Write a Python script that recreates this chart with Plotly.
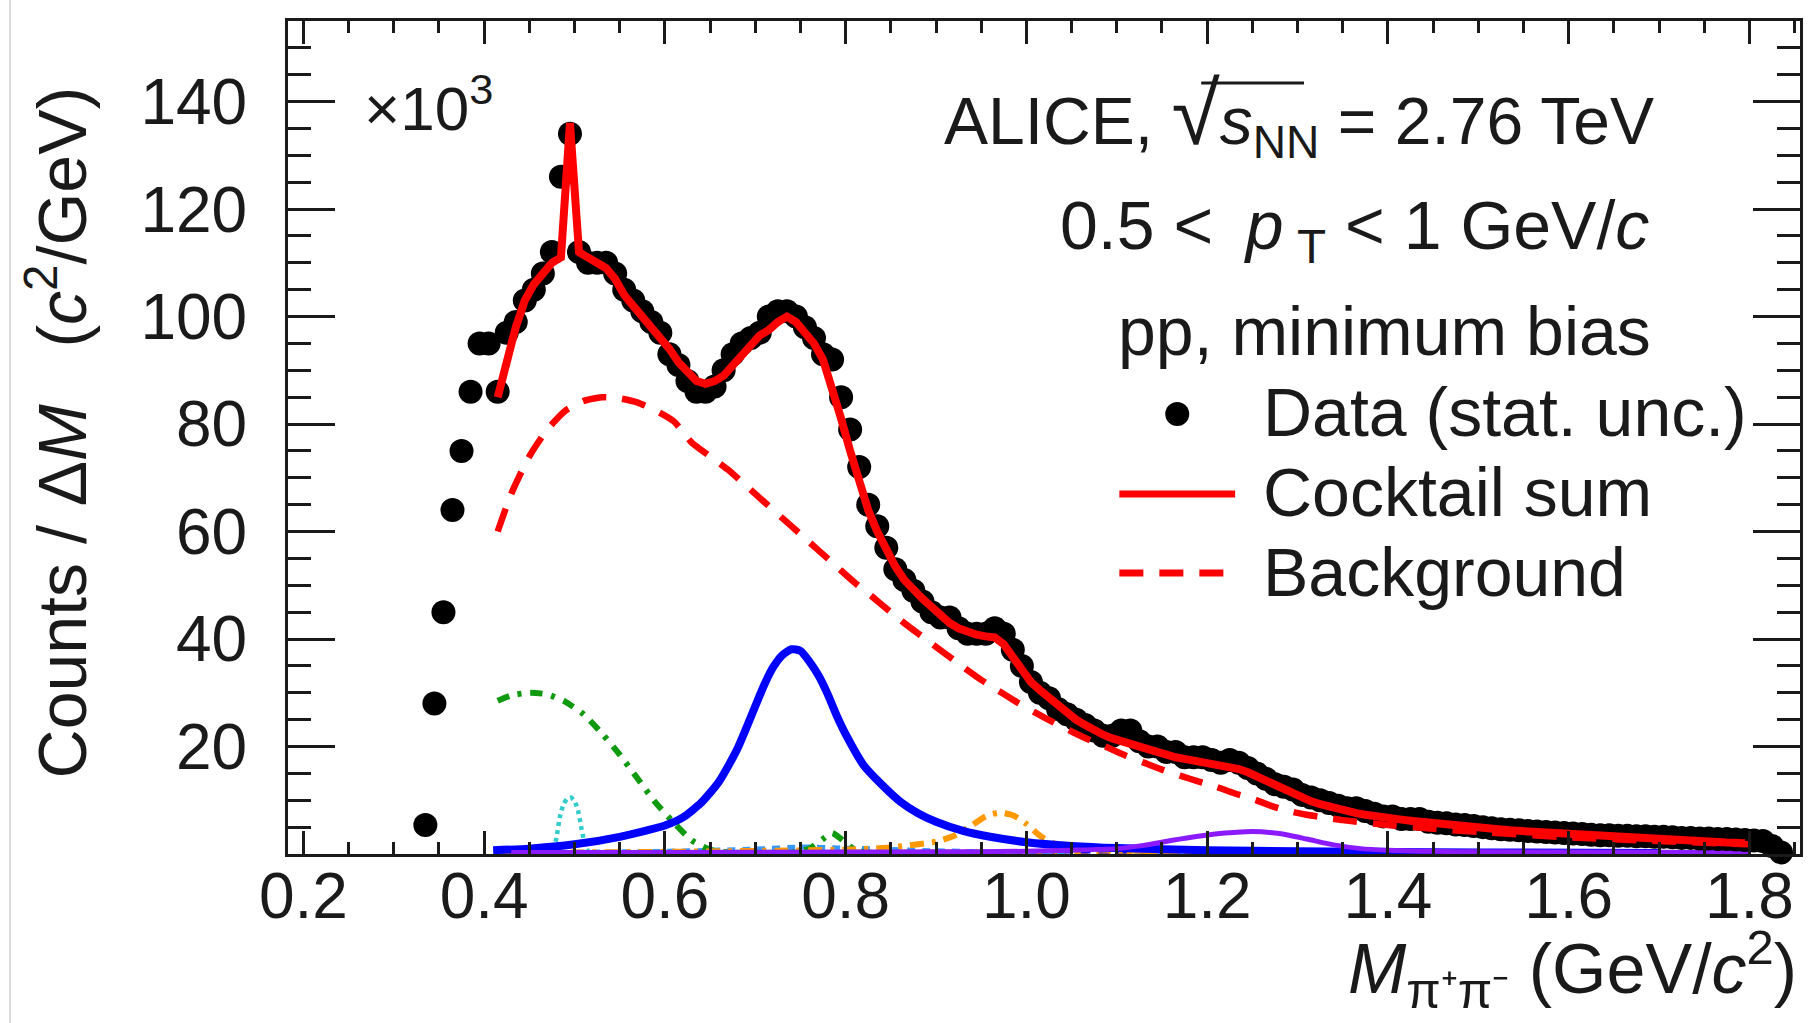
import plotly.graph_objects as go

FONT = "Liberation Sans"
INK = "#1a1a1a"

# ---------------------------------------------------------------------------
# pi+pi- invariant-mass spectrum (counts / dM, in units of 10^3 c^2/GeV)
# ---------------------------------------------------------------------------
BIN_WIDTH = 0.01
data_first_bin = 0.335
data_counts = [
    5.4, 28, 45, 64, 75, 86, 95, 95, 86, 97,            # 0.335 - 0.425
    99, 103, 105, 108, 112, 126, 134, 112, 110, 110,    # 0.435 - 0.525
    110, 108, 105, 103, 101, 99, 97, 93, 91, 88,        # 0.535 - 0.625
    86, 86, 87, 90, 93, 95, 96, 97, 100, 101,           # 0.635 - 0.725
    101, 100, 98, 96, 93, 92, 85, 79, 72, 65,           # 0.735 - 0.825
    61, 57, 53, 51, 49, 47, 45, 44, 44, 42,             # 0.835 - 0.925
    41, 41, 41, 42, 41, 38, 35, 32, 30, 29,             # 0.935 - 1.025
    27, 26, 25, 24, 23, 22, 22, 23, 23, 21,             # 1.035 - 1.125
    20, 20, 19, 19, 18, 18, 18, 17.5, 17, 17.5,         # 1.135 - 1.225
    17, 16, 15, 14, 13, 12.5, 12, 11, 10.5, 10,         # 1.235 - 1.325
    9.5, 9, 8.5, 8.5, 8, 7.5, 7, 7, 6.5, 6.5,           # 1.335 - 1.425
    6.5, 6, 5.8, 5.7, 5.5, 5.4, 5.2, 5.0, 4.8, 4.6,     # 1.435 - 1.525
    4.5, 4.4, 4.3, 4.2, 4.1, 4.0, 3.9, 3.8, 3.7, 3.6,   # 1.535 - 1.625
    3.5, 3.5, 3.4, 3.4, 3.3, 3.3, 3.2, 3.2, 3.1, 3.0,   # 1.635 - 1.725
    3.0, 2.9, 2.9, 2.8, 2.8, 2.7, 2.6, 2.5, 2.4, 1.5,   # 1.735 - 1.825
    0.3,                                                # 1.835
]
data_mass = [round(data_first_bin + BIN_WIDTH * i, 3) for i in range(len(data_counts))]

# total hadronic cocktail + background
sum_first_bin = 0.415
cocktail_sum = [
    85, 92, 98, 103, 106, 108, 110, 111, 136, 112,                  # 0.415 - 0.505
    111, 110, 109, 107, 104, 102, 100, 98.5, 96, 94,                # 0.515 - 0.605
    91.5, 89.5, 88, 87.5, 88, 89, 91, 93, 95, 96.5,                 # 0.615 - 0.705
    97.5, 99, 100, 99, 97, 95, 92, 87, 81, 75,                      # 0.715 - 0.805
    69, 64, 60, 56.5, 53.5, 51, 49, 47.5, 46, 44.5,                 # 0.815 - 0.905
    43, 42, 41.3, 40.8, 40.5, 40.3, 39, 36.5, 34, 32,               # 0.915 - 1.005
    30.5, 29, 27.5, 26, 25, 24, 23, 22.2, 21.5, 21,                 # 1.015 - 1.105
    20.3, 19.8, 19.3, 18.8, 18.4, 18, 17.7, 17.4, 17.1, 16.8,       # 1.115 - 1.205
    16.5, 16.2, 15.8, 15.2, 14.4, 13.6, 12.7, 11.9, 11.1, 10.4,     # 1.215 - 1.305
    9.8, 9.3, 8.8, 8.4, 8.0, 7.6, 7.3, 7.0, 6.8, 6.6,               # 1.315 - 1.405
    6.4, 6.2, 6.0, 5.8, 5.6, 5.5, 5.4, 5.3, 5.1, 4.9,               # 1.415 - 1.505
    4.7, 4.55, 4.4, 4.3, 4.2, 4.05, 3.9, 3.75, 3.6, 3.5,            # 1.515 - 1.605
    3.4, 3.3, 3.2, 3.1, 3.0, 2.9, 2.8, 2.75, 2.7, 2.6,              # 1.615 - 1.705
    2.55, 2.5, 2.4, 2.35, 2.3, 2.2, 2.15, 2.1, 2.0,                 # 1.715 - 1.795
]
sum_mass = [round(sum_first_bin + BIN_WIDTH * i, 3) for i in range(len(cocktail_sum))]

# combinatorial background
bkg_mass = [0.415, 0.43, 0.45, 0.47, 0.49, 0.51, 0.53, 0.55, 0.57, 0.59, 0.61,
            0.63, 0.65, 0.67, 0.69, 0.71, 0.73, 0.75, 0.77, 0.79, 0.81, 0.83,
            0.85, 0.87, 0.89, 0.91, 0.93, 0.95, 0.97, 0.99, 1.01, 1.03, 1.05,
            1.07, 1.09, 1.11, 1.13, 1.15, 1.17, 1.19, 1.21, 1.23, 1.25, 1.27,
            1.29, 1.31, 1.33, 1.35, 1.40, 1.45, 1.50, 1.60, 1.70, 1.80]
bkg_counts = [60, 67, 74, 79, 82.5, 84.3, 85, 84.8, 84, 82.5, 80.5,
              76.5, 74, 71.5, 68.5, 65.5, 62.5, 59.5, 56.5, 53.5, 50.5, 47.8,
              45, 42.3, 39.8, 37.3, 34.8, 32.4, 30.3, 28.2, 26.3, 24.5, 22.8,
              21.2, 19.8, 18.3, 17.0, 15.7, 14.6, 13.5, 12.5, 11.3, 10.3, 9.0,
              8.0, 7.3, 6.8, 6.3, 5.4, 4.7, 4.1, 3.1, 2.4, 1.8]

# rho0 -> pi+pi-
rho_mass = [0.41, 0.45, 0.50, 0.55, 0.60, 0.62, 0.64, 0.66, 0.68, 0.70, 0.71,
            0.72, 0.73, 0.74, 0.75, 0.76, 0.77, 0.78, 0.79, 0.80, 0.82, 0.84,
            0.86, 0.88, 0.90, 0.93, 0.96, 1.00, 1.05, 1.10, 1.20, 1.30, 1.50, 1.70]
rho_counts = [0.7, 1.0, 1.8, 3.2, 5.3, 6.8, 9.5, 13.5, 19.5, 27.5, 31.5,
              34.8, 37.0, 38.1, 37.8, 35.8, 33.2, 29.8, 25.8, 22.3, 16.5, 12.9,
              9.8, 7.6, 6.0, 4.3, 3.2, 2.2, 1.5, 1.1, 0.7, 0.5, 0.3, 0.2]

# omega / eta contributions
omega_mass = [0.415, 0.43, 0.45, 0.47, 0.49, 0.51, 0.53, 0.55, 0.57, 0.59, 0.61,
              0.63, 0.65, 0.67, 0.70, 0.74, 0.76, 0.775, 0.785, 0.795, 0.81, 0.83, 0.95]
omega_counts = [28.5, 29.5, 30.0, 29.7, 28.3, 26.0, 22.5, 18.5, 14.0, 9.5, 5.8,
                2.5, 0.8, 0.3, 0.2, 0.3, 1.0, 2.8, 3.9, 2.8, 0.8, 0.2, 0.1]

# K0S -> pi+pi-
k0s_mass = [0.47, 0.476, 0.480, 0.484, 0.488, 0.492, 0.496, 0.500, 0.504, 0.508, 0.512, 0.516, 0.52]
k0s_counts = [0.0, 0.5, 3.0, 7.0, 9.3, 10.3, 10.5, 9.9, 8.0, 4.5, 1.5, 0.3, 0.0]

# f0(980) -> pi+pi-
f0_mass = [0.42, 0.60, 0.80, 0.84, 0.87, 0.90, 0.92, 0.94, 0.955, 0.97, 0.985,
           1.00, 1.015, 1.03, 1.05, 1.10, 1.20, 1.40, 1.70]
f0_counts = [0.2, 0.4, 0.8, 1.1, 1.6, 2.3, 3.4, 5.4, 7.0, 7.7, 7.2,
             5.6, 3.4, 2.0, 1.2, 0.7, 0.5, 0.3, 0.2]

# f2(1270) -> pi+pi-
f2_mass = [0.43, 0.60, 0.80, 0.90, 1.00, 1.05, 1.10, 1.13, 1.16, 1.19, 1.22,
           1.25, 1.28, 1.31, 1.34, 1.37, 1.40, 1.45, 1.50, 1.60, 1.80]
f2_counts = [0.3, 0.3, 0.35, 0.4, 0.5, 0.7, 1.0, 1.6, 2.5, 3.3, 3.9,
             4.2, 3.8, 2.8, 1.7, 1.0, 0.7, 0.5, 0.4, 0.35, 0.3]

# K*0 reflection
kstar_mass = [0.42, 0.50, 0.60, 0.70, 0.75, 0.80, 0.90, 1.00, 1.05]
kstar_counts = [0.2, 0.3, 0.5, 0.9, 1.3, 1.1, 0.6, 0.3, 0.2]

# small residual contributions along the baseline
resid_a_mass = [0.42, 0.80, 1.10, 1.40, 1.75]
resid_a_counts = [0.3, 0.4, 0.4, 0.3, 0.2]
resid_b_mass = [1.00, 1.20, 1.40, 1.70]
resid_b_counts = [0.5, 0.5, 0.4, 0.3]

# axis ticks
x_major = [0.2, 0.4, 0.6, 0.8, 1.0, 1.2, 1.4, 1.6, 1.8]
x_labels = ["0.2", "0.4", "0.6", "0.8", "1.0", "1.2", "1.4", "1.6", "1.8"]
y_major = [20, 40, 60, 80, 100, 120, 140]
y_labels = ["20", "40", "60", "80", "100", "120", "140"]

# ---------------------------------------------------------------------------
# page geometry (pixels) and helpers to place decorations in paper space
# ---------------------------------------------------------------------------
W, H = 1808, 1023
PLOT_L, PLOT_R, PLOT_T, PLOT_B = 288, 1803, 21, 854


def px_x(p):
    return (p - PLOT_L) / (PLOT_R - PLOT_L)


def px_y(p):
    return (PLOT_B - p) / (PLOT_B - PLOT_T)


fig = go.Figure()


def add_curve(x, y, color, width, dash="solid", shape="spline"):
    fig.add_trace(go.Scatter(x=x, y=y, mode="lines", showlegend=False,
                             hoverinfo="skip",
                             line=dict(color=color, width=width, dash=dash,
                                       shape=shape, smoothing=0.6)))


# individual cocktail components
add_curve(resid_a_mass, resid_a_counts, "#ff9900", 4.5, "14px,8px")
add_curve(resid_b_mass, resid_b_counts, "#0000ff", 4.5, "10px,8px")
add_curve(kstar_mass, kstar_counts, "#3399ff", 5, "8px,7px")
add_curve(omega_mass, omega_counts, "#109a10", 6, "12px,9px,4px,9px")
add_curve(k0s_mass, k0s_counts, "#33cccc", 4.5, "4px,4px")
add_curve(f0_mass, f0_counts, "#ff9900", 6, "14px,8px,4px,8px")
add_curve(rho_mass, rho_counts, "#0000ff", 8)
add_curve(f2_mass, f2_counts, "#8c1aff", 5)

# data points
fig.add_trace(go.Scatter(x=data_mass, y=data_counts, mode="markers",
                         showlegend=False, hoverinfo="skip", cliponaxis=False,
                         marker=dict(color="black", size=24, line=dict(width=0))))

# background and cocktail sum drawn on top of the points
add_curve(bkg_mass, bkg_counts, "#ff0000", 6.5, "24px,16px")
add_curve(sum_mass, cocktail_sum, "#ff0000", 8, shape="linear")

axis_common = dict(
    showline=True, linewidth=3, linecolor=INK, mirror="allticks",
    ticks="inside", tickwidth=2.5, tickcolor=INK,
    showgrid=False, zeroline=False,
    tickfont=dict(family=FONT, size=64, color=INK),
)

fig.update_xaxes(range=[0.183, 1.856], tickmode="array", tickvals=x_major,
                 ticktext=x_labels, ticklen=23, ticklabelstandoff=-16,
                 minor=dict(ticks="inside", ticklen=12, tickwidth=2.5,
                            tickcolor=INK, dtick=0.05, tick0=0.0),
                 **axis_common)
fig.update_yaxes(range=[0, 155], tickmode="array", tickvals=y_major,
                 ticktext=y_labels, ticklen=47, ticklabelstandoff=25,
                 minor=dict(ticks="inside", ticklen=23, tickwidth=2.5,
                            tickcolor=INK, dtick=5, tick0=0),
                 **axis_common)

TXT = dict(family=FONT, size=68, color=INK)
annotations = [
    # axis titles
    dict(text="Counts / Δ<i>M</i>\u00a0\u00a0\u00a0(<i>c</i><sup>2</sup>/GeV)",
         x=px_x(57), y=px_y(432), textangle=-90, xanchor="center", yanchor="middle",
         font=dict(family=FONT, size=68, color=INK)),
    dict(text='<i>M</i><sub><span style="font-size:50px">π⁺π⁻</span></sub> (GeV/<i>c</i><sup>2</sup>)',
         x=px_x(1802), y=px_y(969), xanchor="right", yanchor="middle",
         font=dict(family=FONT, size=70, color=INK)),
    # exponent of the y axis
    dict(text="×10<sup>3</sup>", x=px_x(362), y=px_y(104), xanchor="left",
         yanchor="middle", font=dict(family=FONT, size=62, color=INK)),
    # event selection
    dict(text='ALICE, <span style="font-size:88px">√</span><i>s</i><sub>NN</sub> = 2.76 TeV',
         x=px_x(1659), y=px_y(116), xanchor="right", yanchor="middle",
         font=dict(family=FONT, size=66, color=INK)),
    dict(text="0.5 &lt;\u2009 <i>p</i>\u2009<sub>T</sub> &lt; 1 GeV/<i>c</i>",
         x=px_x(1654), y=px_y(230), xanchor="right", yanchor="middle", font=TXT),
    dict(text="pp, minimum bias",
         x=px_x(1656), y=px_y(331), xanchor="right", yanchor="middle", font=TXT),
    # legend entries
    dict(text="Data (stat. unc.)", x=px_x(1263), y=px_y(412),
         xanchor="left", yanchor="middle", font=TXT),
    dict(text="Cocktail sum", x=px_x(1263), y=px_y(492),
         xanchor="left", yanchor="middle", font=TXT),
    dict(text="Background", x=px_x(1263), y=px_y(572),
         xanchor="left", yanchor="middle", font=TXT),
]
for a in annotations:
    a.update(xref="paper", yref="paper", showarrow=False)

shapes = [
    # legend symbols
    dict(type="circle", xref="paper", yref="paper", xsizemode="pixel",
         ysizemode="pixel", xanchor=px_x(1179), yanchor=px_y(414),
         x0=-12, x1=12, y0=-12, y1=12,
         fillcolor="black", line=dict(width=0)),
    dict(type="line", xref="paper", yref="paper", x0=px_x(1121), x1=px_x(1237),
         y0=px_y(494), y1=px_y(494), line=dict(color="#ff0000", width=7)),
    dict(type="line", xref="paper", yref="paper", x0=px_x(1121), x1=px_x(1237),
         y0=px_y(573), y1=px_y(573),
         line=dict(color="#ff0000", width=7, dash="24px,16px")),
    # overbar of the square root
    dict(type="line", xref="paper", yref="paper", x0=px_x(1203), x1=px_x(1306),
         y0=px_y(83), y1=px_y(83), line=dict(color=INK, width=3)),
    # thin page border on the left
    dict(type="line", xref="paper", yref="paper", x0=px_x(9.5), x1=px_x(9.5),
         y0=px_y(H), y1=px_y(0), line=dict(color="#d0d0d0", width=1.5)),
]

fig.update_layout(
    width=W, height=H,
    margin=dict(l=PLOT_L, r=W - PLOT_R, t=PLOT_T, b=H - PLOT_B, pad=0),
    paper_bgcolor="white", plot_bgcolor="white",
    showlegend=False,
    annotations=annotations, shapes=shapes,
    font=dict(family=FONT, color=INK),
)

fig.write_html("out.html")
